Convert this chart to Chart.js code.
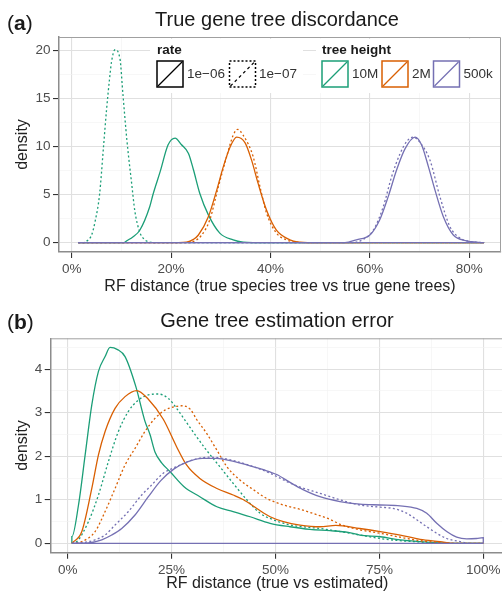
<!DOCTYPE html>
<html>
<head>
<meta charset="utf-8">
<script src="https://cdn.jsdelivr.net/npm/chart.js@4.4.1/dist/chart.umd.min.js"></script>
<style>
  html, body { margin: 0; padding: 0; background: #fff; overflow: hidden; }
  #panelA { position: absolute; left: 0; top: 0; }
  #panelB { position: absolute; left: 0; top: 297px; }
</style>
</head>
<body>
<canvas id="panelA" width="502" height="297"></canvas>
<canvas id="panelB" width="506" height="297"></canvas>
<script>
const FONT = "'Liberation Sans', Arial, Helvetica, sans-serif";
const TEAL = '#1b9e77', ORANGE = '#d95f02', PURPLE = '#7570b3';

// ---- panel (a): true gene tree discordance ----
const discordXTicks = [0, 20, 40, 60, 80];
const discordXMinor = [10, 30, 50, 70];
const discordYTicks = [0, 5, 10, 15, 20];
const discordYMinor = [2.5, 7.5, 12.5, 17.5];

// bottom edge of the density polygons (drawn in the colour of the last group)
const discordBaseX = [1.3, 83];
const discordBaseY = [0, 0];

const discord10MHiX = [1.3, 10.5, 11.1, 12.3, 13.7, 15.7, 16.4, 17.8, 19.4, 20.8, 22.1, 23.5, 24.5, 25.8, 27.5, 29.8, 32.5, 34.5, 36.5, 83];
const discord10MHiY = [0, 0, 0.2, 0.6, 1.3, 3.75, 5.1, 7.4, 10.2, 10.9, 10.2, 9.3, 7.6, 5.1, 2.9, 1.0, 0.3, 0.05, 0, 0];
const discord10MLoX = [1.3, 2.2, 3.0, 4.0, 4.7, 5.6, 6.4, 7.0, 7.6, 8.0, 8.7, 9.7, 10.3, 11.1, 12.1, 12.7, 13.7, 14.5, 15.4, 17, 83];
const discord10MLoY = [0, 0, 0.15, 0.8, 2.2, 5.0, 10.0, 13.8, 17.0, 18.8, 20.1, 19.2, 15.5, 10.7, 6.0, 3.3, 1.1, 0.4, 0.1, 0, 0];
const discord2MHiX = [1.3, 21.5, 23.1, 24.5, 25.5, 27.5, 29.2, 30.5, 31.9, 33.2, 34.9, 36.2, 37.5, 39.2, 41.2, 43.9, 45.9, 47.5, 83];
const discord2MHiY = [0, 0, 0.05, 0.35, 0.8, 2.7, 5.5, 7.9, 10.0, 11.0, 10.4, 8.6, 6.2, 3.4, 1.3, 0.3, 0.05, 0, 0];
const discord2MLoX = [1.3, 22.5, 24.0, 26.0, 27.8, 29.5, 31.2, 32.5, 33.4, 34.5, 36.5, 37.9, 39.2, 41.2, 43.2, 45.5, 47, 83];
const discord2MLoY = [0, 0, 0.05, 0.7, 2.4, 5.8, 9.0, 11.2, 11.8, 11.2, 9.0, 5.8, 3.1, 1.0, 0.3, 0.05, 0, 0];
const discord500kHiX = [1.3, 55.0, 57.3, 60.0, 62.0, 63.7, 65.4, 67.1, 69.1, 70.4, 71.8, 73.1, 74.8, 76.8, 79.5, 81.5, 83];
const discord500kHiY = [0, 0, 0.3, 0.8, 2.4, 4.8, 7.6, 9.8, 11.0, 10.2, 7.9, 5.5, 2.7, 0.8, 0.2, 0.05, 0];
const discord500kLoX = [1.3, 56.5, 58.5, 60.7, 62.7, 64.4, 66.1, 67.5, 68.7, 70.0, 72.1, 74.1, 76.1, 78.1, 80.5, 83];
const discord500kLoY = [0, 0, 0.3, 1.3, 3.75, 6.9, 9.3, 10.6, 11.0, 10.5, 8.6, 4.8, 1.7, 0.5, 0.1, 0];

// ---- panel (b): gene tree estimation error ----
const errorXTicks = [0, 25, 50, 75, 100];
const errorXMinor = [12.5, 37.5, 62.5, 87.5];
const errorYTicks = [0, 1, 2, 3, 4];
const errorYMinor = [0.5, 1.5, 2.5, 3.5, 4.5];

const errorBaseX = [1, 100];
const errorBaseY = [0, 0];

const error10MHiX = [1, 1, 2.6, 4.2, 5.8, 7.4, 9.0, 10.2, 12.0, 13.8, 16.4, 18.6, 19.8, 21.0, 22.6, 24.6, 28.0, 31.8, 35.9, 39.8, 43.9, 48.7, 53.5, 58.3, 63.1, 67.5, 70.3, 75.2, 80.0, 84.8, 89.6, 92, 100];
const error10MHiY = [0, 0.15, 0.88, 2.03, 3.18, 3.95, 4.29, 4.50, 4.45, 4.29, 3.6, 2.8, 2.5, 2.1, 1.85, 1.65, 1.3, 1.07, 0.84, 0.73, 0.61, 0.46, 0.38, 0.32, 0.29, 0.25, 0.19, 0.15, 0.08, 0.04, 0.01, 0, 0];
const error10MLoX = [1, 2.2, 5.0, 7.4, 9.8, 12.2, 14.6, 17.0, 19.4, 21.8, 24.2, 26.6, 29.0, 31.0, 33.4, 36.6, 39.8, 43.1, 46.3, 49.5, 53.5, 57.5, 60.7, 65.5, 70.3, 75.2, 80.0, 84.8, 88, 100];
const error10MLoY = [0, 0.04, 0.50, 1.11, 1.88, 2.57, 3.03, 3.29, 3.41, 3.43, 3.33, 3.05, 2.72, 2.45, 2.14, 1.76, 1.38, 1.0, 0.69, 0.54, 0.42, 0.37, 0.34, 0.27, 0.19, 0.11, 0.06, 0.03, 0, 0];
const error2MHiX = [1, 3.4, 5.8, 7.4, 9.0, 11.4, 13.8, 16.6, 19.4, 23.0, 26.2, 28.6, 31.8, 35.9, 39.8, 42.3, 45.5, 48.7, 51.9, 55.9, 60.7, 64.5, 70.3, 75.2, 80.0, 84.8, 89.6, 93, 100];
const error2MHiY = [0, 0.27, 1.26, 2.03, 2.57, 3.10, 3.37, 3.51, 3.31, 2.85, 2.22, 1.80, 1.49, 1.26, 1.11, 1.0, 0.80, 0.61, 0.50, 0.42, 0.38, 0.41, 0.34, 0.27, 0.19, 0.09, 0.04, 0, 0];
const error2MLoX = [1, 3.4, 6.6, 9.0, 11.4, 13.8, 16.2, 18.6, 21.0, 23.4, 25.8, 27.5, 29.5, 31.0, 33.4, 35.9, 38.3, 41.5, 44.7, 47.9, 51.9, 55.9, 59.9, 63.1, 66, 70.3, 75.2, 80.0, 84.8, 89.6, 93, 100];
const error2MLoY = [0, 0.04, 0.27, 0.73, 1.26, 1.80, 2.18, 2.57, 2.87, 3.06, 3.14, 3.16, 3.08, 2.85, 2.53, 2.14, 1.76, 1.45, 1.23, 1.03, 0.88, 0.78, 0.66, 0.55, 0.42, 0.31, 0.23, 0.14, 0.06, 0.02, 0, 0];
const error500kHiX = [1, 5, 8.2, 10.6, 13.0, 16.2, 19.4, 22.4, 25.6, 28.8, 32.4, 35.9, 39.1, 43.1, 47.1, 50.3, 53.5, 56.5, 60.7, 65.5, 70.3, 75.2, 80.0, 84.0, 86.4, 88.8, 91.2, 93.6, 96.0, 98.4, 100, 100];
const error500kHiY = [0, 0.01, 0.08, 0.19, 0.34, 0.65, 1.07, 1.44, 1.71, 1.87, 1.95, 1.95, 1.90, 1.80, 1.69, 1.58, 1.40, 1.24, 1.07, 0.96, 0.90, 0.88, 0.86, 0.80, 0.69, 0.46, 0.27, 0.14, 0.10, 0.11, 0.13, 0];
const error500kLoX = [1, 4, 6.6, 9.0, 11.4, 14.6, 17.8, 19.8, 23.0, 26.2, 30.2, 34.2, 37.4, 40.7, 44.7, 48.7, 52.7, 56.3, 60.3, 65.5, 70.3, 75.2, 78.3, 81.6, 84.0, 86.4, 88.8, 91.2, 94.4, 97, 100];
const error500kLoY = [0, 0.02, 0.08, 0.19, 0.42, 0.73, 1.11, 1.30, 1.61, 1.76, 1.92, 1.98, 1.95, 1.88, 1.76, 1.61, 1.42, 1.28, 1.16, 1.0, 0.88, 0.83, 0.80, 0.69, 0.54, 0.38, 0.23, 0.11, 0.04, 0, 0];

function pts(xs, ys) {
  return xs.map((x, i) => ({ x: x, y: ys[i] }));
}

function series(label, xs, ys, color, dotted) {
  return {
    label: label,
    data: pts(xs, ys),
    borderColor: color,
    borderWidth: 1.3,
    borderDash: dotted ? [2, 2.4] : [],
    pointRadius: 0,
    cubicInterpolationMode: 'monotone',
    fill: false
  };
}

function axis(min, max, major, minor, fmt, title, size, isX) {
  const all = major.concat(minor).sort((a, b) => a - b);
  const isMajor = c => c.tick && major.includes(c.tick.value);
  return {
    type: 'linear',
    min: min,
    max: max,
    afterBuildTicks: sc => { sc.ticks = all.map(v => ({ value: v })); },
    afterFit: sc => { if (isX) sc.height = size; else sc.width = size; },
    ticks: {
      autoSkip: false,
      maxRotation: 0,
      padding: isX ? 3 : 2.5,
      color: '#4d4d4d',
      font: { family: FONT, size: 13.5 },
      callback: v => major.includes(v) ? fmt(v) : ''
    },
    grid: {
      color: c => isMajor(c) ? '#e0e0e0' : '#f2f2f2',
      lineWidth: c => isMajor(c) ? 1.1 : 0.6,
      tickLength: 6,
      tickColor: c => isMajor(c) ? '#333' : 'rgba(0,0,0,0)'
    },
    border: { display: true, color: '#8c8c8c', width: 1.5 },
    title: {
      display: true,
      text: title,
      color: '#222',
      font: { family: FONT, size: 16 },
      padding: isX ? { top: 0, bottom: 1 } : { top: 13, bottom: 0 }
    }
  };
}

function panelText(letter, title, labelY, titleY) {
  return {
    id: 'panelText' + letter,
    afterDraw(chart) {
      const ctx = chart.ctx;
      const a = chart.chartArea;
      ctx.save();
      // light frame on top and right
      ctx.strokeStyle = '#a0a0a0';
      ctx.lineWidth = 1;
      ctx.beginPath();
      ctx.moveTo(a.left, a.top + 0.5);
      ctx.lineTo(a.right - 0.5, a.top + 0.5);
      ctx.lineTo(a.right - 0.5, a.bottom);
      ctx.stroke();
      ctx.fillStyle = '#1a1a1a';
      ctx.textBaseline = 'middle';
      ctx.textAlign = 'center';
      ctx.font = '20px ' + FONT;
      ctx.fillText(title, 277, titleY);
      ctx.textAlign = 'left';
      let x = 7;
      ctx.font = '21px ' + FONT;
      ctx.fillText('(', x, labelY);
      x += ctx.measureText('(').width;
      ctx.font = 'bold 21px ' + FONT;
      ctx.fillText(letter, x, labelY);
      x += ctx.measureText(letter).width;
      ctx.font = '21px ' + FONT;
      ctx.fillText(')', x, labelY);
      ctx.restore();
    }
  };
}

// legend keys drawn in panel (a)
const rateLabels = ['1e\u221206', '1e\u221207'];
const heightLabels = ['10M', '2M', '500k'];

function keyBox(ctx, x, y, color, dotted) {
  ctx.save();
  ctx.strokeStyle = color;
  ctx.lineWidth = 1.5;
  ctx.setLineDash(dotted ? [2, 2] : []);
  ctx.strokeRect(x, y, 26, 26);
  ctx.lineWidth = dotted ? 1.2 : 1.3;
  ctx.setLineDash(dotted ? [3, 3] : []);
  ctx.beginPath();
  ctx.moveTo(x + 1, y + 25);
  ctx.lineTo(x + 25, y + 1);
  ctx.stroke();
  ctx.restore();
}

const legendPlugin = {
  id: 'keyLegend',
  afterDraw(chart) {
    const ctx = chart.ctx;
    ctx.save();
    ctx.fillStyle = '#fff';
    ctx.fillRect(150, 39, 153, 54);
    ctx.fillRect(316, 39, 184, 54);
    ctx.fillStyle = '#1a1a1a';
    ctx.textBaseline = 'middle';
    ctx.textAlign = 'left';
    ctx.font = 'bold 13.5px ' + FONT;
    ctx.fillText('rate', 157, 50);
    ctx.fillText('tree height', 322, 50);
    ctx.font = '13.5px ' + FONT;
    ctx.fillStyle = '#333';
    keyBox(ctx, 157, 61, '#000', false);
    ctx.fillText(rateLabels[0], 187, 74.5);
    keyBox(ctx, 229.5, 61, '#000', true);
    ctx.fillText(rateLabels[1], 259, 74.5);
    const colors = [TEAL, ORANGE, PURPLE];
    const boxX = [322, 382, 433.5];
    heightLabels.forEach((lab, i) => {
      keyBox(ctx, boxX[i], 61, colors[i], false);
      ctx.fillText(lab, boxX[i] + 30, 74.5);
    });
    ctx.restore();
  }
};

// first dataset is drawn on top in Chart.js, so the purple ones come first
new Chart(document.getElementById('panelA'), {
  type: 'line',
  data: {
    datasets: [
      series('500k baseline', discordBaseX, discordBaseY, PURPLE, false),
      series('500k 1e-06', discord500kHiX, discord500kHiY, PURPLE, false),
      series('500k 1e-07', discord500kLoX, discord500kLoY, PURPLE, true),
      series('2M 1e-06', discord2MHiX, discord2MHiY, ORANGE, false),
      series('2M 1e-07', discord2MLoX, discord2MLoY, ORANGE, true),
      series('10M 1e-06', discord10MHiX, discord10MHiY, TEAL, false),
      series('10M 1e-07', discord10MLoX, discord10MLoY, TEAL, true)
    ]
  },
  options: {
    responsive: false,
    animation: false,
    layout: { padding: { top: 37, right: 1, left: 0, bottom: 0 } },
    plugins: { legend: { display: false }, tooltip: { enabled: false } },
    scales: {
      x: axis(-2.56, 86.4, discordXTicks, discordXMinor, v => v + '%',
        'RF distance (true species tree vs true gene trees)', 45, true),
      y: axis(-0.97, 21.43, discordYTicks, discordYMinor, v => String(v), 'density', 59, false)
    }
  },
  plugins: [panelText('a', 'True gene tree discordance', 24, 20), legendPlugin]
});

new Chart(document.getElementById('panelB'), {
  type: 'line',
  data: {
    datasets: [
      series('500k baseline', errorBaseX, errorBaseY, PURPLE, false),
      series('500k 1e-06', error500kHiX, error500kHiY, PURPLE, false),
      series('500k 1e-07', error500kLoX, error500kLoY, PURPLE, true),
      series('2M 1e-06', error2MHiX, error2MHiY, ORANGE, false),
      series('2M 1e-07', error2MLoX, error2MLoY, ORANGE, true),
      series('10M 1e-06', error10MHiX, error10MHiY, TEAL, false),
      series('10M 1e-07', error10MLoX, error10MLoY, TEAL, true)
    ]
  },
  options: {
    responsive: false,
    animation: false,
    layout: { padding: { top: 41.3, right: 2.1, left: 0, bottom: 0 } },
    plugins: { legend: { display: false }, tooltip: { enabled: false } },
    scales: {
      x: axis(-4.09, 104.96, errorXTicks, errorXMinor, v => v + '%',
        'RF distance (true vs estimated)', 41.3, true),
      y: axis(-0.216, 4.71, errorYTicks, errorYMinor, v => String(v), 'density', 50.7, false)
    }
  },
  plugins: [panelText('b', 'Gene tree estimation error', 26, 24.5)]
});
</script>
</body>
</html>
